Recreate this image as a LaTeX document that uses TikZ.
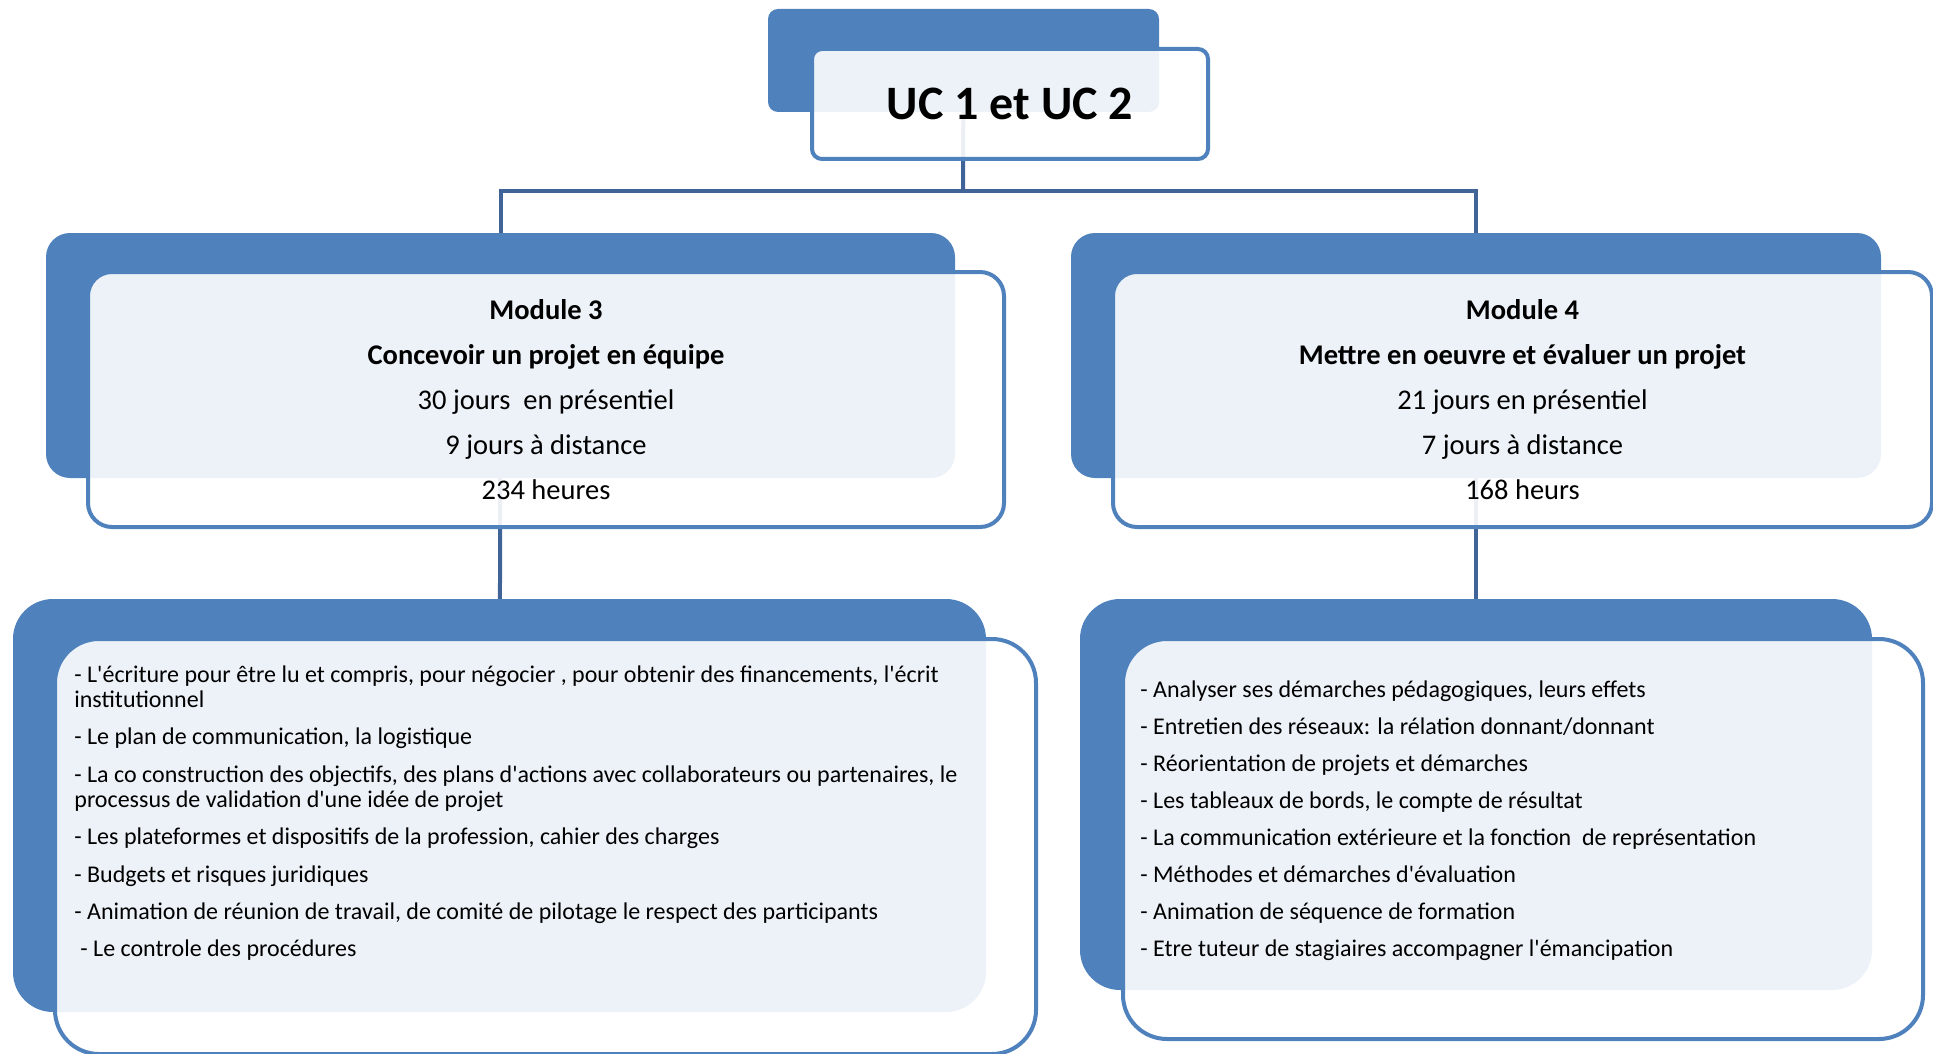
\documentclass[tikz,border=0pt]{standalone}
\usepackage{fontspec}
\setmainfont{Carlito}[Ligatures=TeXOff]
\usetikzlibrary{positioning}
\definecolor{boxblue}{RGB}{79,129,189}
\definecolor{linkblue}{RGB}{64,100,151}
\pgfdeclarelayer{background}
\pgfsetlayers{background,main}

\begin{document}
\begin{tikzpicture}[x=0.5pt,y=-0.5pt,
    sz/.style 2 args={minimum width=#1*0.5pt, minimum height=#2*0.5pt},
    backbox/.style={fill=boxblue, rounded corners=#1, anchor=north west, inner sep=0pt, outer sep=0pt},
    frontbox/.style={draw=boxblue, line width=2pt, fill=white, fill opacity=0.9, text opacity=1,
        rounded corners=#1, anchor=north west, inner sep=0pt, align=center},
    link/.style={draw=linkblue, line width=2pt},
    itemlist/.style={anchor=north west, inner sep=0pt, align=left,
        font=\fontsize{12}{12.75}\selectfont}
]
    \useasboundingbox (0,0) rectangle (1933,1054);

    % top
    \node[backbox=5pt, sz={391}{103}] (ucb) at (768,9) {};
    \node[frontbox=5pt, sz={396}{110}, font=\fontsize{24}{28}\selectfont\bfseries] (uc)
        at ([shift={(42,38)}]ucb.north west) {UC 1 et UC 2};

    % modules
    \node[backbox=12pt, sz={909}{245}] (m3b) at (46,233) {};
    \node[frontbox=12pt, sz={916}{255}, font=\fontsize{14.25}{22.5}\selectfont] (m3)
        at ([shift={(40,37)}]m3b.north west)
        {\textbf{Module 3}\\ \textbf{Concevoir un projet en équipe}\\ 30 jours~ en présentiel\\
         9 jours à distance\\ 234 heures};

    \node[backbox=12pt, sz={810}{245}] (m4b) at (1071,233) {};
    \node[frontbox=12pt, sz={819}{255}, font=\fontsize{14.25}{22.5}\selectfont] (m4)
        at ([shift={(40,37)}]m4b.north west)
        {\textbf{Module 4}\\ \textbf{Mettre en oeuvre et évaluer un projet}\\ 21 jours en présentiel\\
         7 jours à distance\\ 168 heurs};

    % contents
    \node[backbox=20pt, sz={973}{413}] (l3b) at (13,599) {};
    \node[frontbox=22pt, sz={981}{415}] (l3) at ([shift={(40,38)}]l3b.north west) {};
    \node[itemlist] (l3txt) at ([shift={(21,28)}]l3.north west)
        {- L'écriture pour être lu et compris, pour négocier , pour obtenir des financements, l'écrit\\
         institutionnel\\[5.9pt]
         - Le plan de communication, la logistique\\[5.9pt]
         - La co construction des objectifs, des plans d'actions avec collaborateurs ou partenaires, le\\
         processus de validation d'une idée de projet\\[5.9pt]
         - Les plateformes et dispositifs de la profession, cahier des charges\\[5.9pt]
         - Budgets et risques juridiques\\[5.9pt]
         - Animation de réunion de travail, de comité de pilotage le respect des participants\\[5.9pt]
         \hspace{0.25em}- Le controle des procédures};

    \node[backbox=20pt, sz={792}{391}] (l4b) at (1080,599) {};
    \node[frontbox=22pt, sz={800}{400}] (l4) at ([shift={(41,38)}]l4b.north west) {};
    \node[itemlist] (l4txt) at ([shift={(19,43)}]l4.north west)
        {- Analyser ses démarches pédagogiques, leurs effets\\[5.8pt]
         - Entretien des réseaux: la rélation donnant/donnant\\[5.8pt]
         - Réorientation de projets et démarches\\[5.8pt]
         - Les tableaux de bords, le compte de résultat\\[5.8pt]
         - La communication extérieure et la fonction~ de représentation\\[5.8pt]
         - Méthodes et démarches d'évaluation\\[5.8pt]
         - Animation de séquence de formation\\[5.8pt]
         - Etre tuteur de stagiaires accompagner l'émancipation};

    \coordinate (bus) at (963,191);
    \begin{pgfonlayer}{background}
        \draw[link] (ucb.center) -- (bus);
        \draw[link] (m3b.center) |- (bus) -| (m4b.center);
        \draw[link] (m3b.center) -- (l3b.center);
        \draw[link] (m4b.center) -- (l4b.center);
    \end{pgfonlayer}
\end{tikzpicture}
\end{document}
